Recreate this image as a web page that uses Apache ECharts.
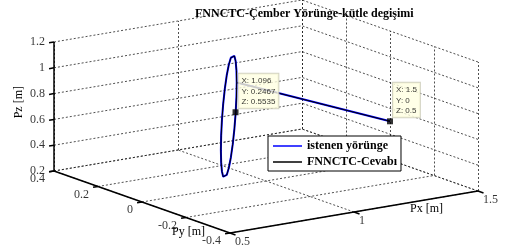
<!DOCTYPE html>
<html>
<head>
<meta charset="utf-8">
<style>
  html, body { margin: 0; padding: 0; background: #fff; }
  #container { width: 505px; height: 247px; }
</style>
<script src="https://cdn.jsdelivr.net/npm/echarts@6/dist/echarts.min.js"></script>
</head>
<body>
<div id="container"></div>
<script>
var dom = document.getElementById("container");
var myChart = echarts.init(dom, null, {
  renderer: "canvas",
  useDirtyRect: false,
});
var option;

// axis ticks
const pxTicks = [0.5, 1, 1.5];
const pyTicks = [-0.4, -0.2, 0, 0.2, 0.4];
const pzTicks = [0.2, 0.4, 0.6, 0.8, 1, 1.2];
const pxLabels = ["0.5", "1", "1.5"];
const pyLabels = ["-0.4", "-0.2", "0", "0.2", "0.4"];
const pzLabels = ["0.2", "0.4", "0.6", "0.8", "1", "1.2"];

// desired trajectory (start point, then the circle)
const refPx = [1.5, 1.1328, 1.1232, 1.0949, 1.05, 0.9914, 0.9232, 0.85, 0.7768, 0.7086, 0.65, 0.6051, 0.5768, 0.5672,
  0.5768, 0.6051, 0.65, 0.7086, 0.7768, 0.85, 0.9232, 0.9914, 1.05, 1.0949, 1.1232, 1.1328];
const refPy = [0, 0.2828, 0.2732, 0.2449, 0.2, 0.1414, 0.0732, 0, -0.0732, -0.1414, -0.2, -0.2449, -0.2732, -0.2828,
  -0.2732, -0.2449, -0.2, -0.1414, -0.0732, 0, 0.0732, 0.1414, 0.2, 0.2449, 0.2732, 0.2828];
const refPz = [0.5, 0.75, 0.8535, 0.95, 1.0328, 1.0964, 1.1364, 1.15, 1.1364, 1.0964, 1.0328, 0.95, 0.8535, 0.75,
  0.6465, 0.55, 0.4672, 0.4036, 0.3636, 0.35, 0.3636, 0.4036, 0.4672, 0.55, 0.6465, 0.75];

// network response (overlaps the desired path)
const resPx = refPx.slice();
const resPy = refPy.slice();
const resPz = refPz.slice();

// data tips
const tipPx = [1.096, 1.5];
const tipPy = [0.2467, 0];
const tipPz = [0.5535, 0.5];
const tipText = ["X: 1.096\nY: 0.2467\nZ: 0.5535", "X: 1.5\nY: 0\nZ: 0.5"];

const xMin = pxTicks[0], xMax = pxTicks[pxTicks.length - 1];
const yMin = pyTicks[0], yMax = pyTicks[pyTicks.length - 1];
const zMin = pzTicks[0], zMax = pzTicks[pzTicks.length - 1];

// 3D view: screen position of the front-bottom corner and unit axis vectors
const origin = [230, 233];
const ux = [248, -42];
const uy = [-220, -77.5];
const uz = [0, -129];
function proj(px, py, pz) {
  const a = px - xMin, b = py - yMin, c = pz - zMin;
  return [
    origin[0] + a * ux[0] + b * uy[0] + c * uz[0],
    origin[1] + a * ux[1] + b * uy[1] + c * uz[1],
  ];
}

const gridSegs = [];
function gseg(p, q) {
  gridSegs.push({ coords: [proj(p[0], p[1], p[2]), proj(q[0], q[1], q[2])] });
}
pxTicks.forEach(function (x) {
  gseg([x, yMin, zMin], [x, yMax, zMin]);
  gseg([x, yMax, zMin], [x, yMax, zMax]);
});
pyTicks.forEach(function (y) {
  gseg([xMin, y, zMin], [xMax, y, zMin]);
  gseg([xMax, y, zMin], [xMax, y, zMax]);
});
pzTicks.forEach(function (z) {
  gseg([xMin, yMax, z], [xMax, yMax, z]);
  gseg([xMax, yMin, z], [xMax, yMax, z]);
});

const axisSegs = [];
function aseg(p, q) {
  axisSegs.push({ coords: [proj(p[0], p[1], p[2]), proj(q[0], q[1], q[2])] });
}
aseg([xMin, yMax, zMin], [xMin, yMax, zMax]);
aseg([xMin, yMin, zMin], [xMin, yMax, zMin]);
aseg([xMin, yMin, zMin], [xMax, yMin, zMin]);
pzTicks.forEach(function (z) { aseg([xMin, yMax, z], [xMin - 0.02, yMax, z]); });
pyTicks.forEach(function (y) { aseg([xMin, y, zMin], [xMin - 0.02, y, zMin]); });
pxTicks.forEach(function (x) { aseg([x, yMin, zMin], [x, yMin - 0.025, zMin]); });

function path(xs, ys, zs) {
  return xs.map(function (x, i) { return proj(x, ys[i], zs[i]); });
}

const serif = "Liberation Serif";

function tickLabels(points, labels, align, offset) {
  return {
    type: "scatter",
    symbolSize: 0,
    silent: true,
    itemStyle: { color: "rgba(0,0,0,0)" },
    data: points.map(function (p, i) { return { value: p, text: labels[i] }; }),
    label: {
      show: true,
      position: "inside",
      align: align,
      verticalAlign: "middle",
      offset: offset,
      formatter: function (p) { return p.data.text; },
      fontFamily: serif,
      fontSize: 12,
      color: "#000",
    },
    z: 5,
  };
}

option = {
  animation: false,
  title: {
    text: "FNNCTC-Çember Yörünge-kütle degişimi",
    left: 190,
    top: 3,
    textStyle: { fontFamily: serif, fontWeight: "bold", fontSize: 12, color: "#000" },
  },
  grid: { left: 0, right: 0, top: 0, bottom: 0 },
  xAxis: { type: "value", min: 0, max: 505, show: false },
  yAxis: { type: "value", min: 0, max: 247, inverse: true, show: false },
  legend: {
    orient: "vertical",
    left: 268,
    top: 136,
    padding: [4, 4, 3, 5],
    itemGap: 4,
    itemWidth: 29,
    itemHeight: 1.5,
    icon: "rect",
    backgroundColor: "#fff",
    borderColor: "#000",
    borderWidth: 1,
    textStyle: { fontFamily: serif, fontWeight: "bold", fontSize: 12, color: "#000" },
    data: ["istenen yörünge", "FNNCTC-Cevabı"],
  },
  graphic: [
    { type: "text", left: 13, top: 86, rotation: Math.PI / 2,
      style: { text: "Pz [m]", font: "12px " + serif, fill: "#000" } },
    { type: "text", x: 172, y: 226, style: { text: "Py [m]", font: "12px " + serif, fill: "#000" } },
    { type: "text", x: 410, y: 203, style: { text: "Px [m]", font: "12px " + serif, fill: "#000" } },
  ],
  series: [
    {
      type: "lines",
      coordinateSystem: "cartesian2d",
      silent: true,
      lineStyle: { color: "#222", width: 0.8, type: [2, 2], opacity: 1 },
      data: gridSegs,
      z: 1,
    },
    {
      type: "lines",
      coordinateSystem: "cartesian2d",
      silent: true,
      lineStyle: { color: "#000", width: 1.5, opacity: 1 },
      data: axisSegs,
      z: 2,
    },
    {
      name: "istenen yörünge",
      type: "line",
      data: path(refPx, refPy, refPz),
      showSymbol: false,
      symbol: "none",
      color: "#0000ff",
      lineStyle: { color: "#0000ff", width: 2 },
      z: 3,
    },
    {
      name: "FNNCTC-Cevabı",
      type: "line",
      data: path(resPx, resPy, resPz),
      showSymbol: false,
      symbol: "none",
      color: "#000",
      lineStyle: { color: "#000", width: 1 },
      z: 4,
    },
    {
      type: "scatter",
      symbol: "rect",
      symbolSize: 6,
      itemStyle: { color: "#000" },
      data: tipPx.map(function (x, i) {
        return { value: proj(x, tipPy[i], tipPz[i]), text: tipText[i] };
      }),
      label: {
        show: true,
        position: [6, -1],
        align: "left",
        verticalAlign: "bottom",
        formatter: function (p) { return p.data.text; },
        fontFamily: "Liberation Sans",
        fontSize: 8,
        lineHeight: 10.5,
        color: "#000",
        backgroundColor: "#ffffe1",
        borderColor: "#c8c8b4",
        borderWidth: 1,
        padding: [2, 3, 1, 3],
      },
      z: 6,
    },
    tickLabels(pzTicks.map(function (z) { return proj(xMin, yMax, z); }), pzLabels, "right", [-9, 0]),
    tickLabels(pyTicks.map(function (y) { return proj(xMin, y, zMin); }), pyLabels, "right", [-9, 8]),
    tickLabels(pxTicks.map(function (x) { return proj(x, yMin, zMin); }), pxLabels, "left", [5, 9]),
  ],
};

if (option && typeof option === "object") {
  myChart.setOption(option);
}

window.addEventListener("resize", myChart.resize);
</script>
</body>
</html>
